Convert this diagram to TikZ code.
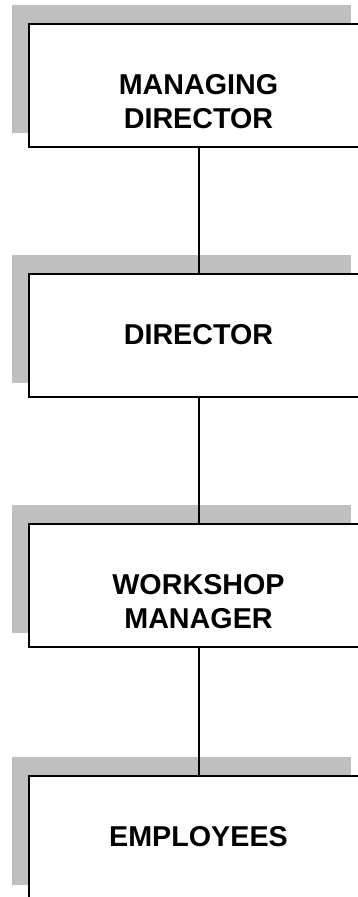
\documentclass[tikz,border=0pt]{standalone}
\usepackage{fontspec}
\setmainfont{Liberation Sans}
\usetikzlibrary{positioning, backgrounds}

\tikzset{
    post/.style = {draw, fill=white, line width=2pt, outer sep=0pt, inner sep=0pt,
                   minimum width=339pt, minimum height=123pt},
    lbl/.style  = {align=center, font=\fontsize{28.7}{34}\selectfont\bfseries},
    conn/.style = {line width=2pt},
    shade/.style = {fill=black!25}
}

\begin{document}
\begin{tikzpicture}[x=1pt, y=-1pt]
        \useasboundingbox (0,0) rectangle (358,897);
        \clip (0,0) rectangle (358,897);
        \node[post] (md) at (198.5,85) {};
        \node[post, below=127pt of md] (dir) {};
        \node[post, below=127pt of dir] (wm) {};
        \node[post, below=129pt of wm] (emp) {};
        %---------------------------
        \node[lbl, yshift=-17pt] (mdtext) at (md) {MANAGING\\DIRECTOR};
        \node[lbl] (dirtext) at (dir) {DIRECTOR};
        \node[lbl, yshift=-17pt] (wmtext) at (wm) {WORKSHOP\\MANAGER};
        \node[lbl] (emptext) at (emp) {EMPLOYEES};
        %---------------------------
        \begin{scope}[on background layer]
        \foreach \b in {md, dir, wm, emp}
            \fill[shade] ([shift={(-17pt,18.5pt)}]\b.north west) rectangle ([shift={(-17pt,13.5pt)}]\b.south east);
        \end{scope}
        %--------------------------
        \draw[conn] (md) -- (dir);
        \draw[conn] (dir) -- (wm);
        \draw[conn] (wm) -- (emp);
\end{tikzpicture}
\end{document}
